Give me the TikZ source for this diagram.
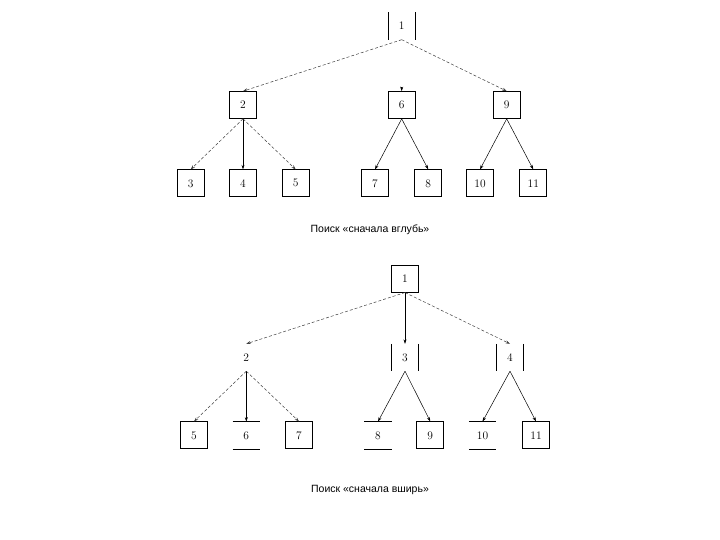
\documentclass[tikz,border=0pt]{standalone}
\usepackage{fontspec}
\newfontfamily\capfont{Liberation Sans}
\usetikzlibrary{arrows.meta}

\begin{document}
\begin{tikzpicture}[x=1pt, y=-1pt,
    num/.style={minimum size=27pt, inner sep=0pt, font=\fontsize{11.5}{13}\selectfont},
    boxed/.style={num, draw, line width=0.7pt},
    bar/.style={line width=0.7pt},
    arr/.style={-{Stealth[length=4.5pt,width=3pt]}, line width=0.5pt},
    darr/.style={arr, densely dashed, black!75},
    caption/.style={font=\capfont\fontsize{10.5}{12}\selectfont}]
    \useasboundingbox (0,0) rectangle (720,540);

                    %depth first
                    \node[num] (d1) at (401.7,26) {1};
                    \node[boxed] (d2) at (243,105) {2};
                    \node[boxed] (d6) at (401.7,105) {6};
                    \node[boxed] (d9) at (506.7,105) {9};
                    \node[boxed] (d3) at (190.7,183.3) {3};
                    \node[boxed] (d4) at (243,183.3) {4};
                    \node[boxed] (d5) at (295.7,183.3) {5};
                    \node[boxed] (d7) at (375,183.3) {7};
                    \node[boxed] (d8) at (428.3,183.3) {8};
                    \node[boxed] (d10) at (480,183.3) {10};
                    \node[boxed] (d11) at (533.3,183.3) {11};
                    \draw[bar] (d1.north west) -- (d1.south west) (d1.north east) -- (d1.south east);

                    \draw[darr] (d1.south) -- (d2.north);
                    \draw[darr] (d1.south) -- (d9.north);
                    \coordinate (d6in) at (401.7,87.5);
                    \draw[arr] (d6in) -- (d6.north);
                    \draw[darr] (d2.south) -- (d3.north);
                    \draw[arr] (d2.south) -- (d4.north);
                    \draw[darr] (d2.south) -- (d5.north);
                    \draw[arr] (d6.south) -- (d7.north);
                    \draw[arr] (d6.south) -- (d8.north);
                    \draw[arr] (d9.south) -- (d10.north);
                    \draw[arr] (d9.south) -- (d11.north);

                    \node[caption] (cap1) at (370,230) {Поиск «сначала вглубь»};

                    %breadth first
                    \node[boxed] (b1) at (405,278.7) {1};
                    \node[num] (b2) at (246.3,357.5) {2};
                    \node[num] (b3) at (405,357.5) {3};
                    \node[num] (b4) at (510,357.5) {4};
                    \node[boxed] (b5) at (194,435.3) {5};
                    \node[num] (b6) at (246.3,435.3) {6};
                    \node[boxed] (b7) at (299,435.3) {7};
                    \node[num] (b8) at (378,435.3) {8};
                    \node[boxed] (b9) at (430.3,435.3) {9};
                    \node[num] (b10) at (482.5,435.3) {10};
                    \node[boxed] (b11) at (536,435.3) {11};
                    \draw[bar] (b3.north west) -- (b3.south west) (b3.north east) -- (b3.south east);
                    \draw[bar] (b4.north west) -- (b4.south west) (b4.north east) -- (b4.south east);
                    \draw[bar] (b6.north west) -- (b6.north east) (b6.south west) -- (b6.south east);
                    \draw[bar] (b8.north west) -- (b8.north east) (b8.south west) -- (b8.south east);
                    \draw[bar] (b10.north west) -- (b10.north east) (b10.south west) -- (b10.south east);

                    \draw[darr] (b1.south) -- (b2.north);
                    \draw[arr] (b1.south) -- (b3.north);
                    \draw[darr] (b1.south) -- (b4.north);
                    \draw[darr] (b2.south) -- (b5.north);
                    \draw[arr] (b2.south) -- (b6.north);
                    \draw[darr] (b2.south) -- (b7.north);
                    \draw[arr] (b3.south) -- (b8.north);
                    \draw[arr] (b3.south) -- (b9.north);
                    \draw[arr] (b4.south) -- (b10.north);
                    \draw[arr] (b4.south) -- (b11.north);

                    \node[caption] (cap2) at (370,490) {Поиск «сначала вширь»};

\end{tikzpicture}
\end{document}
